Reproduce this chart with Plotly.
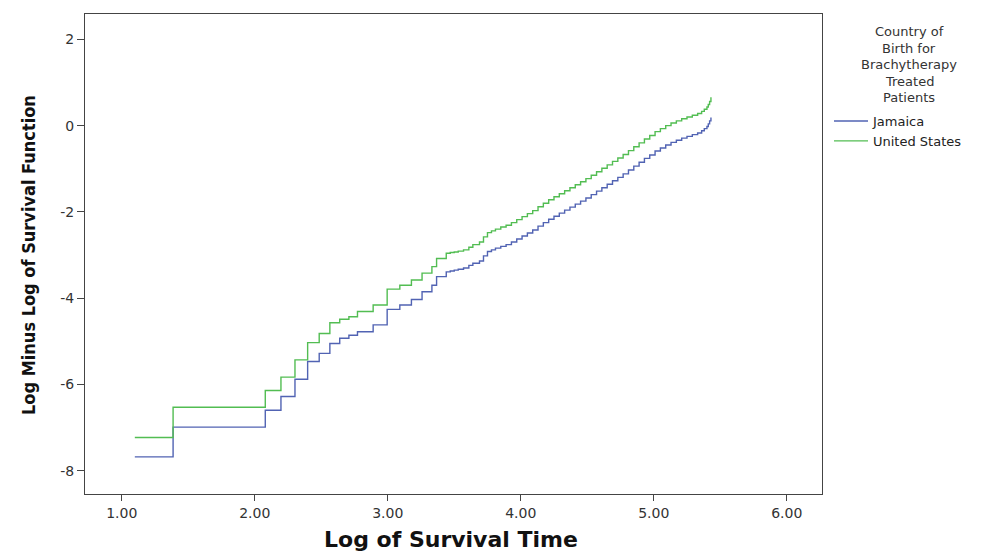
import plotly.graph_objects as go

# Log of survival time (event times)
log_time = [1.0986, 1.3863, 2.0794, 2.1972, 2.3026, 2.3979, 2.4849, 2.5649, 2.6391,
            2.7081, 2.7726, 2.8904, 2.9957, 3.0910, 3.1781, 3.2581, 3.3322, 3.3673,
            3.44, 3.47, 3.50, 3.53, 3.57, 3.61, 3.64, 3.69, 3.72, 3.75, 3.78, 3.81,
            3.85, 3.89, 3.93, 3.97, 4.01, 4.05, 4.09, 4.13, 4.17, 4.21, 4.25, 4.29,
            4.33, 4.37, 4.41, 4.45, 4.49, 4.53, 4.57, 4.61, 4.65, 4.69, 4.73, 4.77,
            4.81, 4.85, 4.89, 4.93, 4.97, 5.01, 5.05, 5.09, 5.13, 5.17, 5.21, 5.25,
            5.29, 5.33, 5.36, 5.38, 5.40, 5.41, 5.42, 5.43]

jamaica = [-7.68, -6.99, -6.60, -6.28, -5.88, -5.47, -5.28, -5.05, -4.93,
           -4.86, -4.78, -4.62, -4.26, -4.16, -4.03, -3.85, -3.70, -3.50,
           -3.39, -3.37, -3.35, -3.33, -3.30, -3.24, -3.19, -3.14, -3.02, -2.92, -2.88, -2.84,
           -2.80, -2.76, -2.70, -2.63, -2.56, -2.49, -2.42, -2.33, -2.25, -2.17, -2.10, -2.03,
           -1.96, -1.89, -1.82, -1.75, -1.68, -1.60, -1.52, -1.44, -1.36, -1.28, -1.20, -1.12,
           -1.03, -0.94, -0.85, -0.76, -0.68, -0.59, -0.52, -0.45, -0.39, -0.34, -0.29, -0.25,
           -0.21, -0.17, -0.12, -0.07, -0.02, 0.04, 0.11, 0.19]

united_states = [-7.23, -6.53, -6.14, -5.83, -5.43, -5.03, -4.82, -4.57, -4.49,
                 -4.43, -4.31, -4.16, -3.79, -3.70, -3.58, -3.42, -3.27, -3.08,
                 -2.96, -2.94, -2.93, -2.91, -2.88, -2.82, -2.76, -2.70, -2.58, -2.48, -2.44, -2.40,
                 -2.35, -2.31, -2.25, -2.18, -2.11, -2.04, -1.97, -1.88, -1.80, -1.72, -1.65, -1.58,
                 -1.51, -1.44, -1.37, -1.30, -1.23, -1.15, -1.07, -0.99, -0.91, -0.83, -0.75, -0.67,
                 -0.58, -0.49, -0.40, -0.31, -0.23, -0.14, -0.07, 0.00, 0.06, 0.11, 0.16, 0.20,
                 0.24, 0.28, 0.33, 0.38, 0.43, 0.49, 0.56, 0.66]

x_ticks = [1, 2, 3, 4, 5, 6]
x_tick_labels = ["1.00", "2.00", "3.00", "4.00", "5.00", "6.00"]
y_ticks = [-8, -6, -4, -2, 0, 2]
y_tick_labels = ["-8", "-6", "-4", "-2", "0", "2"]
legend_title_lines = ["Country of", "Birth for", "Brachytherapy", "Treated", "Patients"]

font_main = "DejaVu Sans, Liberation Sans, Arial, sans-serif"

W, H = 989, 552
ML, MR, MT, MB = 85, 167, 14, 58
PW, PH = W - ML - MR, H - MT - MB


def px_to_paper_x(px):
    return (px - ML) / PW


def px_to_paper_y(py):
    return (H - MB - py) / PH


fig = go.Figure()
fig.add_trace(go.Scatter(x=log_time, y=jamaica, mode="lines", name="Jamaica",
                         line=dict(shape="hv", color="#5163b3", width=1.4)))
fig.add_trace(go.Scatter(x=log_time, y=united_states, mode="lines", name="United States",
                         line=dict(shape="hv", color="#52bd52", width=1.4)))

annotations = []
# legend title, one centred line each
for i, line in enumerate(legend_title_lines):
    annotations.append(dict(
        text=line, xref="paper", yref="paper",
        x=px_to_paper_x(909), y=px_to_paper_y(32 + i * 16.4),
        xanchor="center", yanchor="middle", showarrow=False,
        font=dict(size=13, color="#333", family=font_main)))
# axis titles
annotations.append(dict(
    text="<b>Log of Survival Time</b>", xref="paper", yref="paper",
    x=px_to_paper_x(451), y=px_to_paper_y(539), xanchor="center", yanchor="middle",
    showarrow=False, font=dict(size=22, color="#111", family=font_main)))
annotations.append(dict(
    text="<b>Log Minus Log of Survival Function</b>", xref="paper", yref="paper",
    x=px_to_paper_x(28), y=px_to_paper_y(255), xanchor="center", yanchor="middle",
    textangle=-90, showarrow=False,
    font=dict(size=18, color="#111",
              family="Liberation Sans Narrow, Arial Narrow, DejaVu Sans Condensed, sans-serif")))

fig.update_layout(
    width=W, height=H,
    margin=dict(l=ML, r=MR, t=MT, b=MB, autoexpand=False),
    paper_bgcolor="white", plot_bgcolor="white",
    font=dict(family=font_main, color="#222"),
    annotations=annotations,
    legend=dict(
        x=px_to_paper_x(829), y=px_to_paper_y(106), xanchor="left", yanchor="top",
        font=dict(size=13, color="#222", family=font_main),
        bgcolor="rgba(0,0,0,0)", tracegroupgap=0, itemwidth=34,
    ),
    xaxis=dict(
        range=[0.724, 6.265], tickvals=x_ticks, ticktext=x_tick_labels,
        showgrid=False, zeroline=False, automargin=False,
        showline=True, mirror=True, linecolor="#444", linewidth=1,
        ticks="outside", ticklen=6, tickcolor="#444",
        tickfont=dict(size=14, color="#333"),
    ),
    yaxis=dict(
        range=[-8.54, 2.587], tickvals=y_ticks, ticktext=y_tick_labels,
        showgrid=False, zeroline=False, automargin=False,
        showline=True, mirror=True, linecolor="#444", linewidth=1,
        ticks="outside", ticklen=7, tickcolor="#444",
        tickfont=dict(size=14, color="#333"),
    ),
)

fig.write_html("out.html", config={"displayModeBar": False},
               post_script="document.body.style.margin='0';document.body.style.overflow='hidden';")
